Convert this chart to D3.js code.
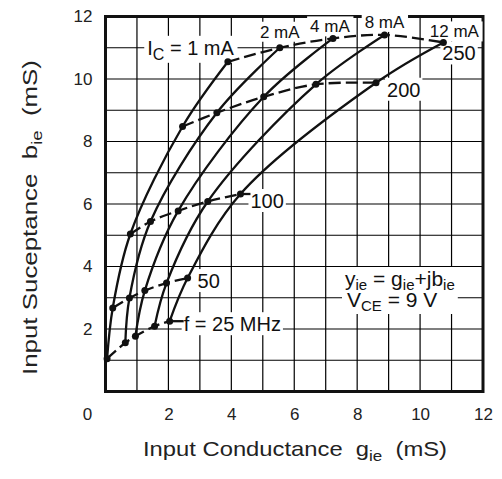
<!DOCTYPE html>
<html><head><meta charset="utf-8">
<script src="https://cdn.jsdelivr.net/npm/d3@7"></script>
<style>body{margin:0;background:#fff}svg{display:block}</style>
</head><body><svg id="c" width="502" height="479"></svg>
<script>
// ---- data ----
const frequencies = [25, 50, 100, 200, 250];          // MHz, order of points on each curve
const currents = ["1 mA", "2 mA", "4 mA", "8 mA", "12 mA"];
const g_1mA  = [0.05, 0.23, 0.79, 2.45, 3.89];
const b_1mA  = [1.05, 2.67, 5.04, 8.48, 10.55];
const g_2mA  = [0.63, 0.76, 1.43, 3.54, 5.54];
const b_2mA  = [1.56, 2.99, 5.44, 8.92, 11.00];
const g_4mA  = [0.95, 1.25, 2.31, 5.03, 7.23];
const b_4mA  = [1.77, 3.23, 5.78, 9.43, 11.30];
const g_8mA  = [1.56, 1.94, 3.25, 6.69, 8.87];
const b_8mA  = [2.09, 3.47, 6.08, 9.83, 11.41];
const g_12mA = [2.04, 2.61, 4.29, 8.60, 10.74];
const b_12mA = [2.25, 3.63, 6.32, 9.88, 11.17];
const xTicks = [2, 4, 6, 8, 10, 12];
const yTicks = [2, 4, 6, 8, 10, 12];
const cornerLabel = "0";

const gSeries = [g_1mA, g_2mA, g_4mA, g_8mA, g_12mA];
const bSeries = [b_1mA, b_2mA, b_4mA, b_8mA, b_12mA];

// ---- layout ----
const FONT = "'Liberation Sans', Arial, Helvetica, sans-serif";
const INK = "#111";
const svg = d3.select("#c").style("font-family", FONT);
const x = d3.scaleLinear().domain([0, 12]).range([105.5, 483]);
const y = d3.scaleLinear().domain([0, 12]).range([391.5, 16.5]);

// grid
const grid = svg.append("g").attr("stroke", "#000").attr("stroke-width", 1.2);
grid.selectAll("line.v").data(d3.range(1, 12)).join("line")
  .attr("x1", d => x(d)).attr("x2", d => x(d)).attr("y1", y(0)).attr("y2", y(12));
grid.selectAll("line.h").data(d3.range(1, 12)).join("line")
  .attr("y1", d => y(d)).attr("y2", d => y(d)).attr("x1", x(0)).attr("x2", x(12));

// frame
svg.append("rect").attr("x", x(0)).attr("y", y(12))
  .attr("width", x(12) - x(0)).attr("height", y(0) - y(12))
  .attr("fill", "none").attr("stroke", INK).attr("stroke-width", 3);

// axes
const xAxis = svg.append("g").attr("transform", `translate(0,${y(0)})`)
  .call(d3.axisBottom(x).tickValues(xTicks).tickSize(0).tickPadding(16).tickFormat(d3.format("d")));
const yAxis = svg.append("g").attr("transform", `translate(${x(0)},0)`)
  .call(d3.axisLeft(y).tickValues(yTicks).tickSize(0).tickPadding(13).tickFormat(d3.format("d")));
[xAxis, yAxis].forEach(a => {
  a.select(".domain").remove();
  a.selectAll("text").attr("font-size", 17).attr("font-family", FONT).attr("fill", "#222");
});
svg.append("text").attr("x", x(0) - 18).attr("y", y(0) + 16).attr("dy", "0.71em")
  .attr("text-anchor", "middle").attr("font-size", 17).attr("fill", "#222").text(cornerLabel);

// text with subscripts: parts = [{t}, {sub}, ...]
function addSub(t, parts, subSize, shift, firstAttrs) {
  let lowered = false, first = true;
  parts.forEach(p => {
    let s;
    if (p.sub) {
      s = t.append("tspan").attr("font-size", subSize).attr("dy", shift).text(p.sub);
      lowered = true;
    } else {
      s = t.append("tspan").text(p.t);
      if (lowered) { s.attr("dy", -shift); lowered = false; }
    }
    if (first && firstAttrs) { Object.entries(firstAttrs).forEach(([k, v]) => s.attr(k, v)); }
    first = false;
  });
  return t;
}

// axis titles
const xt = svg.append("text").attr("x", 143).attr("y", 456).attr("font-size", 21).attr("fill", "#222")
  .style("white-space", "pre");
addSub(xt, [{t: "Input Conductance  g"}, {sub: "ie"}, {t: "  (mS)"}], 15, 5);
xt.attr("textLength", 304).attr("lengthAdjust", "spacingAndGlyphs");

const yt = svg.append("text").attr("transform", "translate(37,375) rotate(-90)")
  .attr("font-size", 21).attr("fill", "#222").style("white-space", "pre");
addSub(yt, [{t: "Input Suceptance  b"}, {sub: "ie"}, {t: "  (mS)"}], 15, 5);
yt.attr("textLength", 315).attr("lengthAdjust", "spacingAndGlyphs");

// layers
const boxLayer = svg.append("g");
const markLayer = svg.append("g");
const textLayer = svg.append("g");

function boxed(t, pad) {
  const bb = t.node().getBBox();
  boxLayer.append("rect").attr("x", bb.x - pad).attr("y", bb.y - 1)
    .attr("width", bb.width + 2 * pad).attr("height", bb.height + 1).attr("fill", "#fff");
}

// constant-current curves (solid)
const line = d3.line().x(d => x(d[0])).y(d => y(d[1])).curve(d3.curveCatmullRom.alpha(0.5));
const icCurves = gSeries.map((g, k) => g.map((gv, j) => [gv, bSeries[k][j]]));
markLayer.selectAll("path.ic").data(icCurves).join("path")
  .attr("fill", "none").attr("stroke", INK).attr("stroke-width", 2.3).attr("d", line);

// constant-frequency curves (dashed)
const fCurves = frequencies.map((f, j) => gSeries.map((g, k) => [g[j], bSeries[k][j]]));
markLayer.selectAll("path.f").data(fCurves).join("path")
  .attr("fill", "none").attr("stroke", INK).attr("stroke-width", 2.3)
  .attr("stroke-dasharray", "12,5").attr("d", line);

// points
markLayer.selectAll("circle").data(icCurves.flat()).join("circle")
  .attr("cx", d => x(d[0])).attr("cy", d => y(d[1])).attr("r", 3.5).attr("fill", INK);

// current labels at the 250 MHz points
const curLabelPos = [
  {dx: 6, dy: -7, anchor: "end", size: 20},
  {dx: 0, dy: -10, anchor: "middle", size: 17},
  {dx: -3, dy: -6, anchor: "middle", size: 17},
  {dx: 0, dy: -7, anchor: "middle", size: 17},
  {dx: 11, dy: -5, anchor: "middle", size: 17}
];
currents.forEach((c, k) => {
  const p = icCurves[k][frequencies.length - 1];
  const o = curLabelPos[k];
  const t = textLayer.append("text").attr("x", x(p[0]) + o.dx).attr("y", y(p[1]) + o.dy)
    .attr("text-anchor", o.anchor).attr("font-size", o.size).attr("fill", INK);
  if (k === 0) addSub(t, [{t: "I"}, {sub: "C"}, {t: " = " + c}], 16, 5);
  else t.text(c);
  boxed(t, 3);
});

// frequency labels at the 12 mA points
const fLabelPos = [
  {dx: 14, dy: 10, lead: true}, {dx: 10, dy: 10}, {dx: 10, dy: 14, lead: true},
  {dx: 11, dy: 14}, {dx: -1, dy: 18}
];
frequencies.forEach((f, j) => {
  const p = fCurves[j][currents.length - 1];
  const o = fLabelPos[j];
  const px = x(p[0]), py = y(p[1]);
  if (o.lead) markLayer.append("line").attr("x1", px).attr("y1", py).attr("x2", px + o.dx)
    .attr("y2", py).attr("stroke", INK).attr("stroke-width", 2.3);
  const t = textLayer.append("text").attr("x", px + o.dx).attr("y", py + o.dy)
    .attr("font-size", 20).attr("fill", INK).text(j === 0 ? `f = ${f} MHz` : `${f}`);
  boxed(t, 2);
});

// annotation: one text block, two lines
const ann = textLayer.append("text").attr("x", 345).attr("y", 286).attr("font-size", 21).attr("fill", INK);
addSub(ann, [{t: "y"}, {sub: "ie"}, {t: " = g"}, {sub: "ie"}, {t: "+jb"}, {sub: "ie"}], 15, 4);
// second line: after last subscript we are at +4 below the first baseline
addSub(ann, [{t: "V"}, {sub: "CE"}, {t: " = 9 V"}], 15, 4, {x: 347, dy: 17});
const ab = ann.node().getBBox();
boxLayer.append("rect").attr("x", ab.x - 3).attr("y", ab.y)
  .attr("width", ab.width + 6).attr("height", ab.height).attr("fill", "#fff");
</script></body></html>
